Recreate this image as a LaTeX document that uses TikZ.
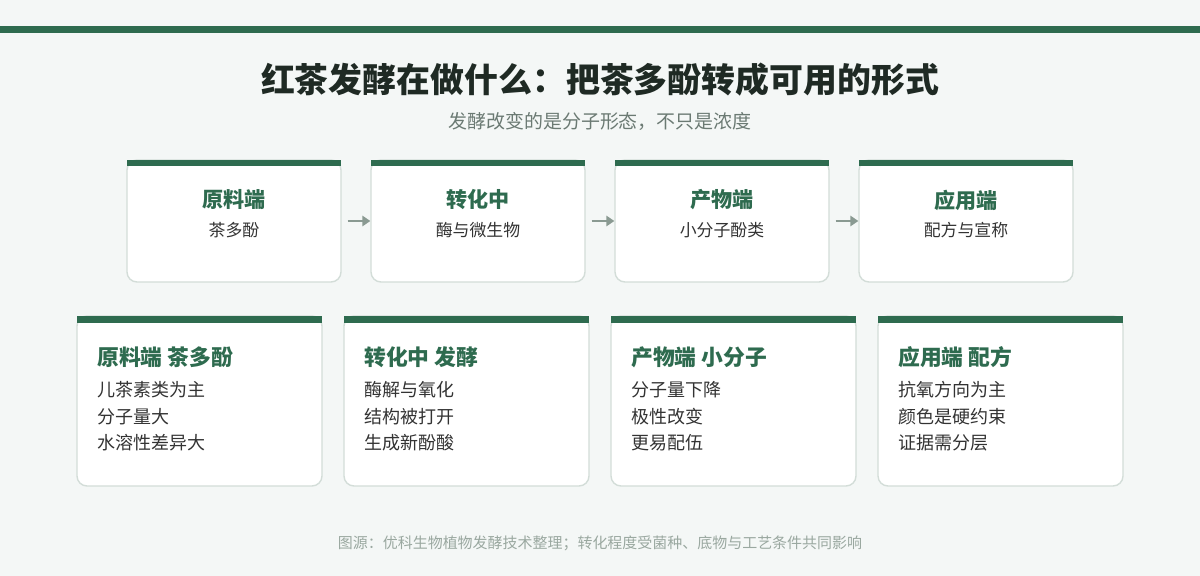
\documentclass[tikz,border=0pt]{standalone}
\usepackage{fontspec}
\setmainfont{Noto Sans CJK SC}
\usetikzlibrary{arrows.meta}

\definecolor{teagreen}{HTML}{2E6B4F}
\definecolor{pagebg}{HTML}{F4F7F6}
\definecolor{cardline}{HTML}{D3DDD8}
\definecolor{inkdark}{HTML}{1F2A24}
\definecolor{inkgray}{HTML}{6B7A73}
\definecolor{arrowgray}{HTML}{8A9A92}
\definecolor{notegray}{HTML}{9AA8A0}
\definecolor{bodyink}{HTML}{333333}

\tikzset{
  card/.style={draw=cardline, line width=1pt, fill=white, rounded corners=0.25cm, inner sep=0pt},
  cardhead/.style={font=\bfseries\fontsize{15}{18}\selectfont, text=teagreen, inner sep=0pt},
  cardsub/.style={font=\fontsize{12}{14}\selectfont, text=bodyink, inner sep=0pt},
  lineitem/.style={font=\fontsize{12.8}{15}\selectfont, text=bodyink, inner sep=0pt, anchor=west},
  flow/.style={draw=arrowgray, line width=2pt, shorten <=0.15cm, -{Triangle[length=0.2cm, width=0.26cm]}}
}

\begin{document}
\begin{tikzpicture}[x=0.025cm, y=-0.025cm]
  % page and top rule
  \fill[pagebg] (0,0) rectangle (1200,576);
  \useasboundingbox (0,0) rectangle (1200,576);
  \fill[teagreen] (0,26) rectangle (1200,33);

  % title block
  \node[font=\bfseries\fontsize{24.1}{28}\selectfont, text=inkdark] (title) at (600,80) {红茶发酵在做什么：把茶多酚转成可用的形式};
  \node[font=\fontsize{13.5}{16}\selectfont, text=inkgray] (subtitle) at (600,121) {发酵改变的是分子形态，不只是浓度};

  % process chain
  \foreach \head/\sub [count=\i] in {原料端/茶多酚, 转化中/酶与微生物, 产物端/小分子酚类, 应用端/配方与宣称} {
    \pgfmathsetmacro{\cx}{234+244*(\i-1)}
    \node[card, minimum width=214*0.025cm, minimum height=122*0.025cm] (t\i) at (\cx,221) {};
    \fill[teagreen] (\cx-107,160) rectangle (\cx+107,166);
    \node[cardhead] (th\i) at (\cx,200) {\head};
    \node[cardsub] (ts\i) at (\cx,230) {\sub};
  }
  \foreach \i [count=\j from 2] in {1,2,3} {
    \draw[flow] (t\i.east) -- (t\j.west);
  }

  % detail cards
  \foreach \head/\lines [count=\i] in {
      原料端 茶多酚/{儿茶素类为主,分子量大,水溶性差异大},
      转化中 发酵/{酶解与氧化,结构被打开,生成新酚酸},
      产物端 小分子/{分子量下降,极性改变,更易配伍},
      应用端 配方/{抗氧方向为主,颜色是硬约束,证据需分层}} {
    \pgfmathsetmacro{\lx}{77+267*(\i-1)}
    \node[card, minimum width=245*0.025cm, minimum height=170*0.025cm] (b\i) at (\lx+122.5,401) {};
    \fill[teagreen] (\lx,316) rectangle (\lx+245,323);
    \node[cardhead, anchor=west, font=\bfseries\fontsize{15.5}{18}\selectfont] (bh\i) at (\lx+20,357) {\head};
    \foreach \ln [count=\k] in \lines {
      \node[lineitem] (b\i l\k) at (\lx+20,363.5+26.5*\k) {\ln};
    }
  }

  % source note
  \node[font=\fontsize{10.65}{12}\selectfont, text=notegray] (note) at (600,543) {图源：优科生物植物发酵技术整理；转化程度受菌种、底物与工艺条件共同影响};
\end{tikzpicture}
\end{document}
